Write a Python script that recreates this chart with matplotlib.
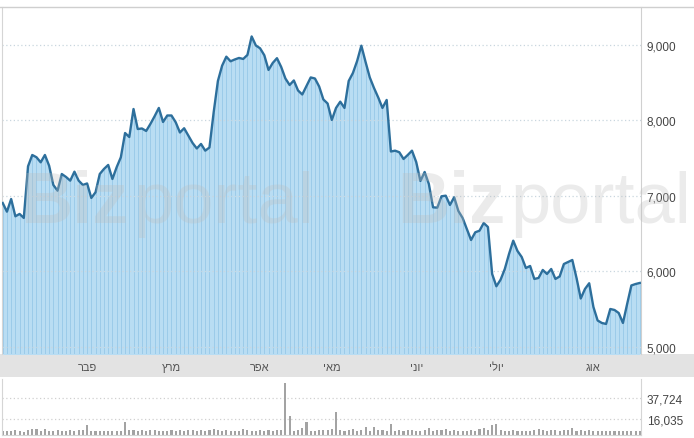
import matplotlib.pyplot as plt
import matplotlib.ticker as mticker
import numpy as np

plt.rcParams['font.family'] = ['Liberation Sans', 'DejaVu Sans']

prices = [6907, 6792, 6960, 6731, 6762, 6709, 7393, 7543, 7513, 7446,
          7543, 7401, 7146, 7070, 7291, 7252, 7203, 7322, 7203, 7146,
          7166, 6974, 7049, 7291, 7358, 7411, 7225, 7380, 7513, 7834,
          7781, 8152, 7887, 7894, 7861, 7954, 8056, 8166, 7980, 8066,
          8066, 7976, 7841, 7897, 7799, 7702, 7629, 7689, 7600, 7642,
          8109, 8523, 8726, 8845, 8784, 8808, 8828, 8815, 8868, 9113,
          8993, 8956, 8864, 8669, 8762, 8825, 8709, 8556, 8470, 8530,
          8397, 8344, 8457, 8570, 8556, 8450, 8278, 8225, 8007, 8166,
          8249, 8166, 8523, 8629, 8788, 8991, 8775, 8570, 8430, 8305,
          8166, 8272, 7589, 7600, 7579, 7490, 7543, 7600, 7450, 7199,
          7318, 7159, 6850, 6845, 6996, 7004, 6881, 6983, 6801, 6709,
          6563, 6417, 6519, 6540, 6642, 6589, 5967, 5804, 5891, 6033,
          6232, 6408, 6272, 6192, 6046, 6073, 5901, 5914, 6020, 5967,
          6033, 5901, 5934, 6099, 6126, 6152, 5914, 5642, 5768, 5844,
          5530, 5351, 5318, 5305, 5503, 5490, 5450, 5318, 5570, 5815,
          5834, 5848]

volume = [3500, 4000, 3200, 4200, 3800, 3000, 4500, 5600, 5400, 3600,
          5800, 3300, 3900, 5200, 4100, 3700, 4400, 3900, 4700, 4300,
          9900, 3800, 3400, 3600, 3900, 3500, 3300, 4100, 3700, 12800,
          4400, 4600, 3800, 4300, 3500, 4900, 4200, 3600, 3900, 4100,
          5200, 3800, 4400, 3700, 4500, 5100, 3900, 4300, 3600, 4800,
          5300, 4500, 3900, 4700, 3600, 4100, 3800, 5400, 4200, 3500,
          4000, 5000, 3700, 4300, 3600, 4400, 5000, 53200, 18900, 3900,
          4500, 6800, 12800, 4100, 3800, 4600, 5200, 4700, 5800, 23200,
          4800, 3500, 4200, 5900, 3900, 4600, 8000, 3700, 7600, 5000,
          4300, 3600, 10900, 4000, 4800, 3800, 5200, 4400, 4100, 3500,
          4900, 6900, 3800, 4500, 4200, 5500, 3700, 4600, 4000, 3900,
          3600, 4300, 4100, 5300, 6600, 4400, 10000, 10900, 4500, 3700,
          3900, 4200, 3600, 3800, 4100, 3500, 4600, 5600, 4800, 3900,
          4200, 5200, 3900, 4500, 4800, 6300, 4100, 5000, 3800, 4500,
          3600, 3400, 3900, 3700, 3500, 3300, 3600, 3800, 3400, 3500,
          3700, 3600]

month_labels = ['פבר', 'מרץ', 'אפר', 'מאי', 'יוני', 'יולי', 'אוג']
month_pos = [20, 40, 61, 78, 98, 117, 140]
price_ticks = [5000, 6000, 7000, 8000, 9000]
volume_ticks = [16035, 37724]

x = np.arange(len(prices))
W, H = 694, 439
xlim = (-0.17, 151.28)

fig = plt.figure(figsize=(W / 100, H / 100), dpi=100)

# month strip (full width) and top frame line
band = fig.add_axes([0, (H - 378) / H, 1, 23 / H], zorder=-1)
band.set_facecolor('#e3e3e3')
band.set_xticks([])
band.set_yticks([])
for s in band.spines.values():
    s.set_visible(False)
fig.add_artist(plt.Line2D([0, 1], [(H - 8) / H] * 2, color='#cfcfcf', lw=1))

ax = fig.add_axes([2 / W, 84 / H, 639 / W, 347 / H])
ax.set_facecolor('white')
ax.fill_between(x, prices, 4800, color='#b9ddf3', lw=0, zorder=1)
ax.vlines(x, 4800, prices, color='#9ccbe9', lw=0.7, zorder=1.5)
for t in price_ticks:
    ax.axhline(t, color='#c9d6df', lw=0.9, ls=(0, (1, 2)), zorder=2)
ax.plot(x, prices, color='#2d6f9c', lw=1.7, zorder=3, solid_joinstyle='round')
ax.set_xlim(*xlim)
ax.set_ylim(4907, 9503)
ax.yaxis.tick_right()
ax.set_yticks(price_ticks)
ax.yaxis.set_major_formatter(mticker.FuncFormatter(lambda v, p: f'{int(v):,}'))
ax.tick_params(axis='y', length=0, pad=4, labelsize=8.5, labelcolor='#444444')
ax.set_xticks(month_pos)
ax.set_xticklabels([m[::-1] for m in month_labels])
ax.tick_params(axis='x', length=0, pad=6, labelsize=8, labelcolor='#555555')
for s in ['top', 'bottom']:
    ax.spines[s].set_visible(False)
ax.spines['left'].set_color('#d5d5d5')
ax.spines['right'].set_color('#d0d0d0')

vax = fig.add_axes([2 / W, 3.5 / H, 639 / W, 55.5 / H])
vax.bar(x, volume, width=0.5, color='#a3a3a3', zorder=2)
for t in volume_ticks:
    vax.axhline(t, color='#d0d0d0', lw=0.9, ls=(0, (1, 2)), zorder=1)
vax.set_xlim(*xlim)
vax.set_ylim(0, 57800)
vax.set_xticks([])
vax.yaxis.tick_right()
vax.set_yticks(volume_ticks)
vax.yaxis.set_major_formatter(mticker.FuncFormatter(lambda v, p: f'{int(v):,}'))
vax.tick_params(axis='y', length=0, pad=4, labelsize=8.5, labelcolor='#444444')
for s in vax.spines.values():
    s.set_color('#d5d5d5')
vax.spines['top'].set_visible(False)

# watermark
for bx, px in [(20, 133), (397, 510)]:
    fig.text(bx / W, (H - 223) / H, 'Biz', fontsize=52, fontweight='bold',
             color='#bdbdbd', alpha=0.3, zorder=10)
    fig.text(px / W, (H - 223) / H, 'portal', fontsize=52,
             color='#bdbdbd', alpha=0.3, zorder=10)

fig.savefig('out.png', dpi=100)
